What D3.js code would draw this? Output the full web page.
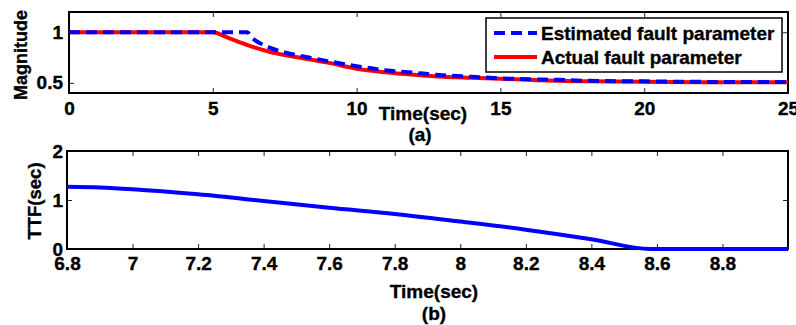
<!DOCTYPE html>
<html>
<head>
<meta charset="utf-8">
<script src="https://cdn.jsdelivr.net/npm/d3@7"></script>
<style>
  body { margin: 0; background: #fff; }
  svg text { font-family: "Liberation Sans", Arial, sans-serif; font-weight: bold; fill: #000; stroke: #000; stroke-width: 0.35px; }
</style>
</head>
<body>
<svg id="chart" width="796" height="325"></svg>
<script>
// panel (a) - fault parameter
const actualTime = [0, 5, 5.5, 6, 6.5, 7, 7.5, 8, 9, 10, 11, 12, 13, 14, 15, 16, 17, 18, 20, 22, 25];
const actualValue = [1, 1, 0.95, 0.895, 0.845, 0.805, 0.775, 0.75, 0.70, 0.64, 0.605, 0.58, 0.56, 0.55, 0.54, 0.53, 0.52, 0.515, 0.51, 0.507, 0.505];
const estTime = [0, 6.2, 6.35, 6.65, 7, 7.5, 8, 9, 10, 11, 12, 13, 14, 15, 16, 17, 18, 20, 22, 25];
const estValue = [1, 1, 0.95, 0.89, 0.845, 0.80, 0.77, 0.715, 0.665, 0.625, 0.60, 0.575, 0.56, 0.545, 0.535, 0.53, 0.52, 0.515, 0.51, 0.508];
const ticksA_x = [0, 5, 10, 15, 20, 25];
const ticksA_y = [0.5, 1];

// panel (b) - time to failure
const ttfTime = [6.8, 6.9, 7.0, 7.2, 7.4, 7.6, 7.8, 8.0, 8.2, 8.4, 8.58, 9.0];
const ttfValue = [1.27, 1.255, 1.22, 1.115, 0.98, 0.84, 0.716, 0.56, 0.395, 0.2, 0, 0];
const ticksB_x = [6.8, 7, 7.2, 7.4, 7.6, 7.8, 8, 8.2, 8.4, 8.6, 8.8];
const ticksB_y = [0, 1, 2];

const legendLabels = ["Estimated fault parameter", "Actual fault parameter"];

const svg = d3.select("#chart");
const FS = 19;

function makePanel(box, xDom, yDom, xTicks, yTicks, padX, padY) {
  const x = d3.scaleLinear().domain(xDom).range([box.left, box.right]);
  const y = d3.scaleLinear().domain(yDom).range([box.bottom, box.top]);
  const g = svg.append("g");

  const ax = [
    [d3.axisBottom(x).tickValues(xTicks).tickSize(-5).tickPadding(padX).tickFormat(d3.format("")), `translate(0,${box.bottom})`],
    [d3.axisTop(x).tickValues(xTicks).tickSize(-5).tickFormat(""), `translate(0,${box.top})`],
    [d3.axisLeft(y).tickValues(yTicks).tickSize(-5).tickPadding(padY).tickFormat(d3.format("")), `translate(${box.left},0)`],
    [d3.axisRight(y).tickValues(yTicks).tickSize(-5).tickFormat(""), `translate(${box.right},0)`]
  ];
  ax.forEach(([a, t]) => {
    const s = g.append("g").attr("transform", t).call(a);
    s.select(".domain").remove();
    s.selectAll(".tick line").attr("stroke", "#222").attr("stroke-width", 1);
    s.selectAll(".tick text").style("font-size", FS + "px");
  });

  g.append("rect")
    .attr("x", box.left).attr("y", box.top)
    .attr("width", box.right - box.left).attr("height", box.bottom - box.top)
    .attr("fill", "none").attr("stroke", "#000").attr("stroke-width", 2);

  return { x, y, g };
}

// ---- panel (a)
const A = makePanel({ left: 69, right: 788, top: 12, bottom: 93 }, [0, 25], [0.4, 1.2], ticksA_x, ticksA_y, 9, 6);

const lineA = d3.line().curve(d3.curveMonotoneX).x(d => A.x(d[0])).y(d => A.y(d[1]));
svg.append("clipPath").attr("id", "clipA").append("rect")
  .attr("x", 69).attr("y", 12).attr("width", 719).attr("height", 81);

svg.append("path")
  .datum(actualTime.map((t, i) => [t, actualValue[i]]))
  .attr("d", lineA).attr("fill", "none").attr("stroke", "#ff0000").attr("stroke-width", 4)
  .attr("clip-path", "url(#clipA)");

svg.append("path")
  .datum(estTime.map((t, i) => [t, estValue[i]]))
  .attr("d", lineA).attr("fill", "none").attr("stroke", "#0000ff").attr("stroke-width", 4)
  .attr("stroke-dasharray", "11,6").attr("clip-path", "url(#clipA)");

// legend
const leg = svg.append("g");
leg.append("rect").attr("x", 486).attr("y", 18).attr("width", 296).attr("height", 54)
  .attr("fill", "#fff").attr("stroke", "#000").attr("stroke-width", 1.5);
const legStyles = [{ c: "#0000ff", dash: "11,6" }, { c: "#ff0000", dash: null }];
legendLabels.forEach((lab, i) => {
  const yy = 33 + i * 24;
  leg.append("line").attr("x1", 494).attr("x2", 537).attr("y1", yy).attr("y2", yy)
    .attr("stroke", legStyles[i].c).attr("stroke-width", 4)
    .attr("stroke-dasharray", legStyles[i].dash);
  leg.append("text").attr("x", 541).attr("y", yy + 6.5).text(lab)
    .style("font-size", FS + "px");
});

svg.append("text").attr("x", 423).attr("y", 120).attr("text-anchor", "middle")
  .style("font-size", FS + "px").text("Time(sec)");
svg.append("text").attr("x", 420).attr("y", 141).attr("text-anchor", "middle")
  .style("font-size", FS + "px").text("(a)");
svg.append("text").attr("transform", "translate(27,55) rotate(-90)").attr("text-anchor", "middle")
  .style("font-size", "18px").text("Magnitude");

// ---- panel (b)
const B = makePanel({ left: 67, right: 788, top: 151, bottom: 249 }, [6.8, 9.0], [0, 2], ticksB_x, ticksB_y, 8, 4);

svg.append("path")
  .datum(ttfTime.map((t, i) => [t, ttfValue[i]]))
  .attr("d", d3.line().curve(d3.curveMonotoneX).x(d => B.x(d[0])).y(d => B.y(d[1])))
  .attr("fill", "none").attr("stroke", "#0000ff").attr("stroke-width", 4);

svg.append("text").attr("x", 434).attr("y", 298).attr("text-anchor", "middle")
  .style("font-size", FS + "px").text("Time(sec)");
svg.append("text").attr("x", 434).attr("y", 320).attr("text-anchor", "middle")
  .style("font-size", FS + "px").text("(b)");
svg.append("text").attr("transform", "translate(41,201) rotate(-90)").attr("text-anchor", "middle")
  .style("font-size", "18.5px").text("TTF(sec)");
</script>
</body>
</html>
